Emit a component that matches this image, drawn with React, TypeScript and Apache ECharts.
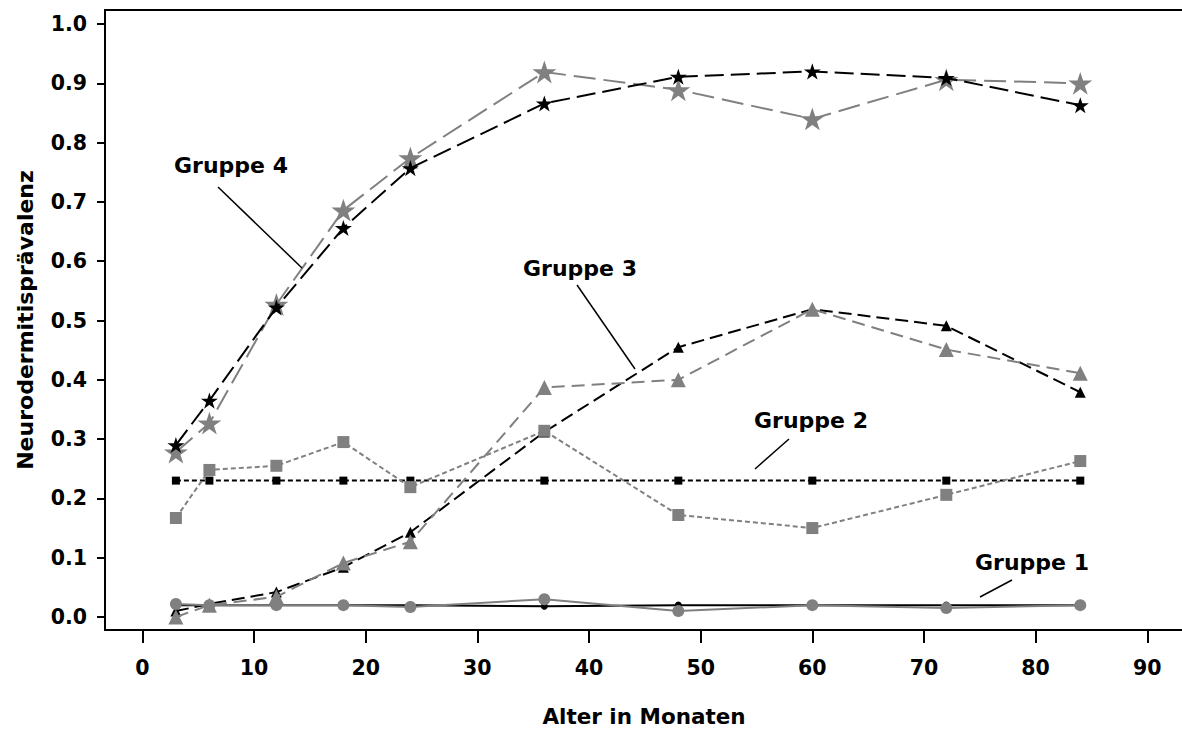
import React, { useEffect, useRef } from "react";
import * as echarts from "echarts";

const months = [3, 6, 12, 18, 24, 36, 48, 60, 72, 84];
const xTicks = [0, 10, 20, 30, 40, 50, 60, 70, 80, 90];
const yTicks = [0, 0.1, 0.2, 0.3, 0.4, 0.5, 0.6, 0.7, 0.8, 0.9, 1.0];

const g4Black = [0.29, 0.365, 0.522, 0.656, 0.757, 0.866, 0.911, 0.92, 0.909, 0.863];
const g4Gray = [0.278, 0.327, 0.527, 0.686, 0.774, 0.919, 0.889, 0.84, 0.906, 0.9];
const g3Black = [0.01, 0.022, 0.042, 0.084, 0.143, 0.312, 0.455, 0.519, 0.491, 0.379];
const g3Gray = [0.0, 0.02, 0.034, 0.091, 0.127, 0.387, 0.4, 0.519, 0.451, 0.411];
const g2Black = [0.23, 0.23, 0.23, 0.23, 0.23, 0.23, 0.23, 0.23, 0.23, 0.23];
const g2Gray = [0.167, 0.248, 0.255, 0.295, 0.219, 0.314, 0.172, 0.15, 0.206, 0.263];
const g1Black = [0.02, 0.02, 0.02, 0.02, 0.02, 0.018, 0.02, 0.02, 0.02, 0.02];
const g1Gray = [0.022, 0.02, 0.02, 0.02, 0.017, 0.03, 0.01, 0.02, 0.015, 0.02];

const groupLabels = ["Gruppe 1", "Gruppe 2", "Gruppe 3", "Gruppe 4"];

const STAR =
  "path://M50 0 L61.23 34.55 L97.55 34.55 L68.17 55.9 L79.39 90.45 L50 69.1 L20.61 90.45 L31.83 55.9 L2.45 34.55 L38.77 34.55 Z";

const GRAY = "#808080";
const FONT = '"DejaVu Sans", sans-serif';

function pts(vals: number[]) {
  return months.map((m, i) => [m, vals[i]]);
}

function mk(
  name: string,
  vals: number[],
  color: string,
  symbol: string,
  size: number,
  width: number,
  dash: number[] | "solid",
  z: number
) {
  return {
    name,
    type: "line",
    data: pts(vals),
    symbol,
    symbolSize: size,
    symbolKeepAspect: true,
    showSymbol: true,
    z,
    lineStyle: { color, width, type: dash },
    itemStyle: { color, borderWidth: 0 },
    emphasis: { disabled: true },
  };
}

export default function App() {
  const ref = useRef<HTMLDivElement>(null);
  useEffect(() => {
    if (!ref.current) return;
    const chart = echarts.init(ref.current, null, { renderer: "svg" });
    const textStyle = (x: number, y: number, t: string) => ({
      type: "text",
      x,
      y,
      z: 100,
      style: {
        text: t,
        font: `bold 22px ${FONT}`,
        fill: "#000",
        align: "center",
        verticalAlign: "middle",
      },
    });
    const leader = (x1: number, y1: number, x2: number, y2: number) => ({
      type: "line",
      z: 100,
      shape: { x1, y1, x2, y2 },
      style: { stroke: "#000", lineWidth: 1.5 },
    });
    chart.setOption({
      animation: false,
      backgroundColor: "#fff",
      grid: {
        left: 105,
        top: 10,
        right: -1,
        bottom: 99,
        show: true,
        borderColor: "#000",
        borderWidth: 2,
        outerBoundsMode: "none",
      },
      xAxis: {
        type: "value",
        min: -3.35,
        max: 93.2,
        name: "Alter in Monaten",
        nameLocation: "middle",
        nameGap: 75,
        nameTextStyle: { fontFamily: FONT, fontWeight: "bold", fontSize: 21.5, color: "#000" },
        axisLine: { show: true, onZero: false, lineStyle: { color: "#000", width: 2 } },
        axisTick: { show: true, length: 13, customValues: xTicks, lineStyle: { color: "#000", width: 2 } },
        axisLabel: {
          customValues: xTicks,
          margin: 27,
          fontFamily: FONT,
          fontWeight: "bold",
          fontSize: 20.5,
          color: "#000",
        },
        splitLine: { show: false },
      },
      yAxis: {
        type: "value",
        min: -0.0219,
        max: 1.0236,
        name: "Neurodermitisprävalenz",
        nameLocation: "middle",
        nameGap: 69,
        nameRotate: 90,
        nameTextStyle: { fontFamily: FONT, fontWeight: "bold", fontSize: 22, color: "#000" },
        axisLine: { show: true, onZero: false, lineStyle: { color: "#000", width: 2 } },
        axisTick: { show: true, length: 8, customValues: yTicks, lineStyle: { color: "#000", width: 2 } },
        axisLabel: {
          customValues: yTicks,
          margin: 18,
          formatter: (v: number) => v.toFixed(1),
          fontFamily: FONT,
          fontWeight: "bold",
          fontSize: 20.5,
          color: "#000",
        },
        splitLine: { show: false },
      },
      tooltip: { show: false },
      series: [
        mk("g1b", g1Black, "#000", "circle", 7, 2, "solid", 2),
        mk("g1g", g1Gray, GRAY, "circle", 12, 2, "solid", 3),
        mk("g2b", g2Black, "#000", "rect", 8, 2, [5, 3], 2),
        mk("g2g", g2Gray, GRAY, "rect", 12, 2, [5, 3], 3),
        mk("g3b", g3Black, "#000", "triangle", 11, 2, [13, 6], 2),
        mk("g3g", g3Gray, GRAY, "triangle", 15, 2, [13, 7], 3),
        mk("g4b", g4Black, "#000", STAR, 17, 2, [19, 7], 4),
        mk("g4g", g4Gray, GRAY, STAR, 24, 2, [22, 8], 3),
      ],
      graphic: [
        textStyle(231, 165, groupLabels[3]),
        leader(218, 187, 302, 268),
        textStyle(580, 268, groupLabels[2]),
        leader(577, 285, 635, 369),
        textStyle(811, 420, groupLabels[1]),
        leader(789, 439, 755, 469),
        textStyle(1032, 562, groupLabels[0]),
        leader(1012, 580, 980, 597),
      ],
    });
    return () => chart.dispose();
  }, []);
  return (
    <div
      ref={ref}
      style={{ position: "absolute", left: 0, top: 0, width: 1182, height: 729 }}
    />
  );
}
